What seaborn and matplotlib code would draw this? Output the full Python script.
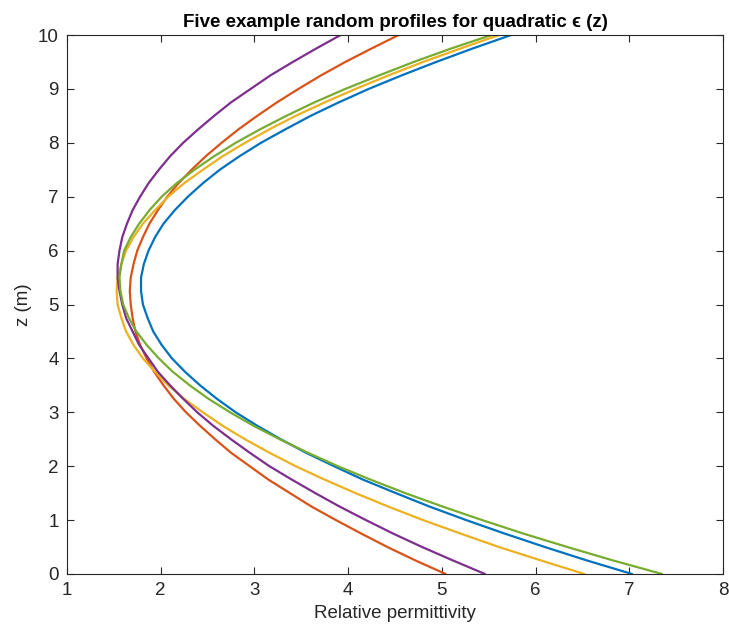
import numpy as np
import pandas as pd
import matplotlib
matplotlib.use("Agg")
import matplotlib.pyplot as plt
import seaborn as sns

# depth samples (m)
z = [0.0, 0.25, 0.5, 0.75, 1.0, 1.25, 1.5, 1.75, 2.0, 2.25, 2.5, 2.75,
     3.0, 3.25, 3.5, 3.75, 4.0, 4.25, 4.5, 4.75, 5.0, 5.25, 5.5, 5.75,
     6.0, 6.25, 6.5, 6.75, 7.0, 7.25, 7.5, 7.75, 8.0, 8.25, 8.5, 8.75,
     9.0, 9.25, 9.5, 9.75, 10.0]

# relative permittivity
eps_blue = [7.03, 6.55, 6.10, 5.67, 5.26, 4.87, 4.51, 4.16, 3.85, 3.55, 3.28, 3.03,
            2.80, 2.60, 2.42, 2.26, 2.12, 2.01, 1.92, 1.86, 1.81, 1.79, 1.79, 1.82,
            1.87, 1.94, 2.03, 2.15, 2.29, 2.45, 2.63, 2.84, 3.07, 3.33, 3.60, 3.90,
            4.22, 4.57, 4.94, 5.33, 5.74]
eps_orange = [5.04, 4.72, 4.42, 4.14, 3.87, 3.61, 3.38, 3.15, 2.95, 2.75, 2.58, 2.42,
              2.27, 2.14, 2.03, 1.93, 1.85, 1.78, 1.73, 1.70, 1.68, 1.67, 1.68, 1.71,
              1.75, 1.81, 1.88, 1.97, 2.07, 2.19, 2.33, 2.48, 2.65, 2.83, 3.03, 3.24,
              3.47, 3.71, 3.97, 4.25, 4.54]
eps_yellow = [6.52, 6.06, 5.61, 5.20, 4.80, 4.43, 4.08, 3.75, 3.44, 3.16, 2.90, 2.66,
              2.45, 2.25, 2.08, 1.94, 1.81, 1.71, 1.63, 1.58, 1.54, 1.53, 1.54, 1.58,
              1.63, 1.71, 1.81, 1.94, 2.08, 2.25, 2.45, 2.66, 2.90, 3.16, 3.44, 3.75,
              4.08, 4.43, 4.80, 5.20, 5.61]
eps_purple = [5.46, 5.12, 4.79, 4.48, 4.19, 3.91, 3.65, 3.40, 3.16, 2.95, 2.75, 2.56,
              2.39, 2.24, 2.10, 1.97, 1.87, 1.77, 1.70, 1.63, 1.59, 1.56, 1.54, 1.54,
              1.56, 1.59, 1.64, 1.70, 1.78, 1.87, 1.98, 2.10, 2.24, 2.40, 2.57, 2.75,
              2.96, 3.17, 3.41, 3.66, 3.92]
eps_green = [7.35, 6.83, 6.34, 5.87, 5.43, 5.01, 4.61, 4.24, 3.89, 3.57, 3.27, 2.99,
             2.74, 2.51, 2.31, 2.13, 1.98, 1.85, 1.74, 1.66, 1.60, 1.57, 1.56, 1.58,
             1.61, 1.68, 1.77, 1.88, 2.01, 2.17, 2.36, 2.57, 2.80, 3.06, 3.34, 3.64,
             3.97, 4.33, 4.70, 5.10, 5.53]

series = [eps_blue, eps_orange, eps_yellow, eps_purple, eps_green]
colors = ["#0072BD", "#D95319", "#EDB120", "#7E2F8E", "#77AC30"]

x_ticks = [1, 2, 3, 4, 5, 6, 7, 8]
y_ticks = [0, 1, 2, 3, 4, 5, 6, 7, 8, 9, 10]

sns.set_theme(style="white")
plt.rcParams["font.family"] = ["Liberation Sans", "DejaVu Sans"]

fig = plt.figure(figsize=(7.29, 6.33), dpi=100)
ax = fig.add_axes([67 / 729, 59 / 633, (723 - 67) / 729, (574 - 35) / 633])

for vals, c in zip(series, colors):
    df = pd.DataFrame({"eps": vals, "z": z})
    sns.lineplot(data=df, x="eps", y="z", sort=False, estimator=None,
                 color=c, linewidth=1.6, ax=ax)
for ln in ax.lines:
    ln.set_solid_joinstyle("round")

ax.set_xlim(1, 8)
ax.set_ylim(0, 10)
ax.set_xticks(x_ticks)
ax.set_yticks(y_ticks)
ax.tick_params(direction="in", length=5, width=0.8, colors="#262626",
               labelsize=13.5, top=True, right=True, bottom=True, left=True,
               labeltop=False, labelright=False, pad=6)
for s in ax.spines.values():
    s.set_visible(True)
    s.set_color("#262626")
    s.set_linewidth(0.8)

ax.set_xlabel("Relative permittivity", fontsize=13.5, color="#262626")
ax.set_ylabel("z (m)", fontsize=13.5, color="#262626")
ax.set_title("Five example random profiles for quadratic \u03f5 (z)",
             fontsize=13.5, fontweight="bold", color="black", pad=6)

fig.savefig("out.png", dpi=100)
